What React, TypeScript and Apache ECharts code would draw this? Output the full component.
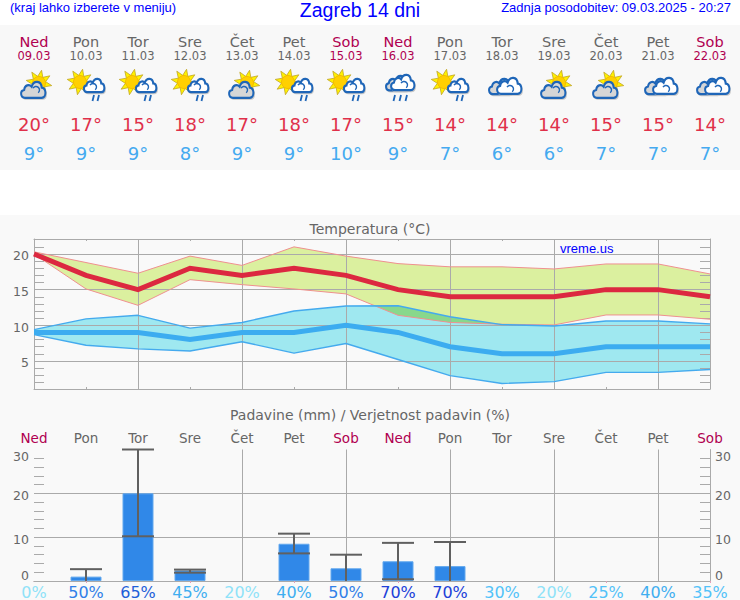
import React, { useEffect, useRef } from "react";
import * as echarts from "echarts";

const FONT = "DejaVu Sans";
const days = ["Ned", "Pon", "Tor", "Sre", "Čet", "Pet", "Sob", "Ned", "Pon", "Tor", "Sre", "Čet", "Pet", "Sob"];
const dates = ["09.03", "10.03", "11.03", "12.03", "13.03", "14.03", "15.03", "16.03", "17.03", "18.03", "19.03", "20.03", "21.03", "22.03"];
const icons = ["A", "B", "B", "B", "A", "B", "B", "C", "B", "D", "A", "A", "D", "D"];
const maxTemp = [20, 17, 15, 18, 17, 18, 17, 15, 14, 14, 14, 15, 15, 14];
const minTemp = [9, 9, 9, 8, 9, 9, 10, 9, 7, 6, 6, 7, 7, 7];
const maxUpper = [20.3, 18.8, 17.3, 19.7, 18.4, 21.0, 19.7, 18.65, 18.2, 18.2, 17.9, 18.6, 18.6, 17.2];
const maxLower = [20.0, 15.1, 12.8, 16.4, 15.7, 15.1, 14.4, 11.4, 10.4, 10.15, 10.05, 11.45, 11.45, 10.85];
const minUpper = [9.4, 10.9, 11.4, 9.6, 10.4, 12.0, 12.7, 12.75, 11.2, 10.1, 9.9, 10.6, 10.6, 10.2];
const minLower = [8.7, 7.2, 6.7, 6.4, 7.7, 6.1, 7.45, 5.2, 2.95, 1.85, 2.1, 3.4, 3.4, 3.8];
const rain: (number | null)[] = [null, 1, 20, 2.4, null, 8.5, 2.9, 4.5, 3.4, null, null, null, null, null];
const rainHigh: (number | null)[] = [null, 2.7, 30, 2.6, null, 10.8, 6, 8.7, 8.9, null, null, null, null, null];
const rainLow: (number | null)[] = [null, 0, 10.2, 1.9, null, 6.3, 0, 0.4, 0, null, null, null, null, null];
const probability = [0, 50, 65, 45, 20, 40, 50, 70, 70, 30, 20, 25, 40, 35];
const tempTicks = [5, 10, 15, 20];
const tempMinor = [2, 3, 4, 6, 7, 8, 9, 11, 12, 13, 14, 16, 17, 18, 19, 21];
const rainTicks = [10, 20];
const rainLabels = [10, 20, 30];
const rainMinor = [2, 4, 6, 8, 12, 14, 16, 18, 22, 24, 26, 28];

const GRAY = "#666666";
const LINE = "#aaaaaa";
const HOLIDAY = "#b00050";
const colX = (i: number) => 34 + 52 * i;
const dayColor = (i: number) => (days[i] === "Ned" || days[i] === "Sob" ? HOLIDAY : GRAY);
const probColor = (p: number) => {
  if (p <= 20) return "#8fe2f8";
  if (p <= 35) return "#52c2f8";
  if (p <= 45) return "#40aef0";
  if (p <= 50) return "#3080e8";
  if (p <= 65) return "#1f5fd8";
  return "#2040d8";
};

const CLOUD_D = "M6 18 C0.5 18 -0.5 10.5 5 9.5 C5.5 4.5 11 3 14 6 C16.5 -1 25.5 -0.5 26 7 C32 7.5 32 18 26 18 Z";
echarts.graphic.registerShape("cloudShape", echarts.graphic.extendPath(CLOUD_D as any, {}) as any);

function cloud(x: number, y: number, w: number, fill: string, z: number) {
  const s = w / 30;
  const sy = s * 1.12;
  return [
    { type: "cloudShape", x: x + 1, y: y + 1.5, scaleX: s, scaleY: sy, z, silent: true, style: { fill: "#b8b8b8", stroke: "#c8c8c8", lineWidth: 1 / s } },
    { type: "cloudShape", x, y, scaleX: s, scaleY: sy, z: z + 1, silent: true, style: { fill, stroke: "#1f66b8", lineWidth: 2 / s } },
  ];
}
function sun(cx: number, cy: number, z: number) {
  const pts: number[][] = [];
  for (let k = 0; k < 16; k++) {
    const a = (k * Math.PI) / 8 - Math.PI / 2 + 0.2;
    const r = k % 2 === 0 ? 13 : 6.8;
    pts.push([cx + r * Math.cos(a), cy + r * Math.sin(a)]);
  }
  return [
    { type: "polygon", z, silent: true, shape: { points: pts }, style: { fill: "#fff200", stroke: "#c0a428", lineWidth: 0.8 } },
    { type: "circle", z: z + 1, silent: true, shape: { cx, cy, r: 6.5 }, style: { fill: "#ffd000", stroke: "#f0b000", lineWidth: 0.8 } },
  ];
}
function drops(cx: number, xs: number[], z: number) {
  return xs.map((dx) => ({
    type: "line",
    z,
    silent: true,
    shape: { x1: cx + dx + 1, y1: 95, x2: cx + dx - 0.5, y2: 101 },
    style: { stroke: "#1f66b8", lineWidth: 1.8 },
  }));
}
function swirl(x: number, y: number, z: number) {
  return { type: "arc", z, silent: true, shape: { cx: x, cy: y, r: 3.5, startAngle: -2.6, endAngle: 0.9 }, style: { stroke: "#1f66b8", fill: "none", lineWidth: 1.4 } };
}
function icon(kind: string, i: number): any[] {
  const c = colX(i);
  if (kind === "A") return [...sun(c + 5, 83, 20), ...cloud(c - 14, 81, 25, "#d6d6d6", 22), swirl(c + 2, 90, 24)];
  if (kind === "B") return [...sun(c - 6, 82, 20), ...cloud(c - 3, 78, 21, "#ffffff", 22), swirl(c + 7, 87, 24), ...drops(c, [7, 12], 24)];
  if (kind === "C") return [...cloud(c - 13, 75, 23, "#d6d6d6", 20), ...cloud(c - 8, 74, 24, "#ffffff", 22), swirl(c + 6, 85, 24), ...drops(c, [-4, 2, 8], 24)];
  return [...cloud(c - 14, 78, 24, "#d6d6d6", 20), ...cloud(c - 6, 77, 25, "#ffffff", 22), swirl(c + 8, 89, 24)];
}
const label = (text: string, x: number, y: number, size: number, fill: string, align = "center", family = FONT) => ({
  type: "text",
  x,
  y,
  z: 30,
  silent: true,
  style: { text, fill, font: `${size}px "${family}"`, textAlign: align, textVerticalAlign: "middle" },
});

function bandItem(upper: number[], lower: number[], fill: string) {
  return (params: any, api: any) => {
    if (params.dataIndex !== 0) return null;
    const points = [
      ...upper.map((v, i) => api.coord([i, v])),
      ...lower.map((v, i) => api.coord([i, v])).reverse(),
    ];
    return { type: "polygon", shape: { points }, style: { fill, stroke: "none" } };
  };
}
function overlapItem(params: any, api: any) {
  if (params.dataIndex !== 0) return null;
  const top: number[][] = [];
  const bottom: number[][] = [];
  const lerp = (a: number[], b: number[], t: number) => [a[0] + (b[0] - a[0]) * t, a[1] + (b[1] - a[1]) * t];
  for (let i = 0; i < minUpper.length - 1; i++) {
    const f0 = minUpper[i] - maxLower[i];
    const f1 = minUpper[i + 1] - maxLower[i + 1];
    const t = f0 / (f0 - f1);
    const u0 = api.coord([i, minUpper[i]]);
    const u1 = api.coord([i + 1, minUpper[i + 1]]);
    const l0 = api.coord([i, maxLower[i]]);
    const l1 = api.coord([i + 1, maxLower[i + 1]]);
    if (f0 > 0) {
      top.push(u0);
      bottom.push(l0);
    }
    if (f0 * f1 < 0) {
      top.push(lerp(u0, u1, t));
      bottom.push(lerp(l0, l1, t));
    }
  }
  return { type: "polygon", shape: { points: [...top, ...bottom.reverse()] }, style: { fill: "#88d88c", stroke: "none" } };
}
function errorItem(params: any, api: any) {
  const x = api.coord([api.value(0), 0])[0];
  const hi = api.coord([api.value(0), api.value(2)])[1];
  const lo = api.coord([api.value(0), api.value(1)])[1];
  const st = { stroke: "#606060", lineWidth: 2 };
  const children: any[] = [
    { type: "line", shape: { x1: x, y1: hi, x2: x, y2: lo }, style: st },
    { type: "line", shape: { x1: x - 16, y1: hi, x2: x + 16, y2: hi }, style: st },
  ];
  if (api.value(1) > 0) children.push({ type: "line", shape: { x1: x - 16, y1: lo, x2: x + 16, y2: lo }, style: st });
  return { type: "group", children };
}

const tickStyle = { color: GRAY, fontFamily: FONT, fontSize: 12.5 };

export default function App() {
  const ref = useRef<HTMLDivElement>(null);
  useEffect(() => {
    const chart = echarts.init(ref.current!, undefined, { renderer: "svg" });
    const idx = days.map((_, i) => i);
    const catBase = { type: "category", data: days, boundaryGap: false };
    const oddTicks = (color: string) => ({ show: true, inside: true, length: 2, interval: (i: number) => i % 2 === 1, lineStyle: { color } });
    const evenSplit = (from: number) => ({ show: true, interval: (i: number) => i % 2 === 0 && i >= from, lineStyle: { color: LINE, width: 1 } });
    const rainLabel = {
      ...tickStyle,
      margin: 5,
      customValues: rainLabels,
      formatter: (v: number) => `{a${v}|${v}}`,
      rich: {
        a10: { ...tickStyle, padding: [4, 0, 0, 0] },
        a20: { ...tickStyle, padding: [4, 0, 0, 0] },
        a30: { ...tickStyle, padding: [14, 0, 0, 0] },
      },
    };
    const option: any = {
      animation: false,
      backgroundColor: "#ffffff",
      graphic: {
        elements: [
          { type: "rect", z: -10, silent: true, shape: { x: 0, y: 25, width: 740, height: 145 }, style: { fill: "#f8f8f8" } },
          { type: "rect", z: -10, silent: true, shape: { x: 0, y: 215, width: 740, height: 385 }, style: { fill: "#f9f9f9" } },
          label("(kraj lahko izberete v meniju)", 10, 7, 13, "#0000ff", "left", "Liberation Sans"),
          label("Zagreb 14 dni", 360, 10, 19.5, "#0000ff", "center", "Liberation Sans"),
          label("Zadnja posodobitev: 09.03.2025 - 20:27", 731, 7, 13, "#0000ff", "right", "Liberation Sans"),
          label("Temperatura (°C)", 370, 229, 14, GRAY),
          label("Padavine (mm) / Verjetnost padavin (%)", 370, 415, 14, GRAY),
          label("vreme.us", 560, 248, 13, "#0000ff", "left", "Liberation Sans"),
          label("0", 29, 575.5, 12.5, GRAY, "right"),
          label("0", 715, 575.5, 12.5, GRAY, "left"),
          ...days.map((d, i) => label(d, colX(i), 42, 14.5, dayColor(i))),
          ...dates.map((d, i) => label(d, colX(i), 56, 11.5, dayColor(i))),
          ...maxTemp.map((v, i) => label(`${v}°`, colX(i), 124.5, 18, "#e0304a")),
          ...minTemp.map((v, i) => label(`${v}°`, colX(i), 153.5, 18, "#44aaf0")),
          ...icons.flatMap((k, i) => icon(k, i)),
        ],
      },
      grid: [
        { left: 34, width: 676, top: 239, height: 150, show: false },
        { left: 34, width: 676, top: 449.5, height: 132, show: false },
      ],
      xAxis: [
        { ...catBase, gridIndex: 0, position: "bottom", z: 3, axisLine: { lineStyle: { color: LINE } }, axisTick: oddTicks(LINE), axisLabel: { show: false }, splitLine: evenSplit(2) },
        { ...catBase, gridIndex: 0, position: "top", z: 3, axisLine: { lineStyle: { color: LINE } }, axisTick: oddTicks(LINE), axisLabel: { show: false }, splitLine: { show: false } },
        {
          ...catBase,
          gridIndex: 1,
          position: "top",
          axisLine: { lineStyle: { color: "#e0a0b8" } },
          axisTick: oddTicks("#e0a0b8"),
          axisLabel: { interval: 0, margin: 5, fontFamily: FONT, fontSize: 13.5, color: (_: any, i: number) => dayColor(i) },
          splitLine: { show: false },
        },
        {
          type: "category",
          data: probability.map((p) => `${p}%`),
          boundaryGap: false,
          gridIndex: 1,
          position: "bottom",
          axisLine: { lineStyle: { color: LINE } },
          axisTick: { show: false },
          axisLabel: { interval: 0, margin: 3, fontFamily: FONT, fontSize: 16, color: (_: any, i: number) => probColor(probability[i]) },
          splitLine: evenSplit(2),
        },
      ],
      yAxis: [
        {
          type: "value", gridIndex: 0, position: "left", min: 1.07, max: 22.1, z: 3,
          axisLine: { show: true, lineStyle: { color: LINE } },
          axisTick: { show: true, inside: true, length: 10, customValues: tempMinor, lineStyle: { color: LINE } },
          axisLabel: { ...tickStyle, margin: 5, customValues: tempTicks, formatter: (v: number) => `{a|${v}}`, rich: { a: { ...tickStyle, padding: [4, 0, 0, 0] } } },
          splitLine: { show: false },
        },
        {
          type: "value", gridIndex: 0, position: "right", min: 1.07, max: 22.1, z: 3,
          axisLine: { show: true, lineStyle: { color: LINE } },
          axisTick: { show: true, inside: true, length: 10, customValues: tempMinor, lineStyle: { color: LINE } },
          axisLabel: { show: false },
          splitLine: { show: false },
        },
        {
          type: "value", gridIndex: 0, position: "left", min: 1.07, max: 22.1, z: 3,
          axisLine: { show: false },
          axisTick: { show: false, customValues: tempTicks },
          axisLabel: { show: false },
          splitLine: { show: true, lineStyle: { color: LINE } },
        },
        {
          type: "value", gridIndex: 1, position: "left", min: 0, max: 30,
          axisLine: { show: false },
          axisTick: { show: true, inside: true, length: 10, customValues: rainMinor, lineStyle: { color: LINE } },
          axisLabel: rainLabel,
          splitLine: { show: false },
        },
        {
          type: "value", gridIndex: 1, position: "right", min: 0, max: 30,
          axisLine: { show: true, lineStyle: { color: LINE } },
          axisTick: { show: true, inside: true, length: 10, customValues: rainMinor, lineStyle: { color: LINE } },
          axisLabel: rainLabel,
          splitLine: { show: false },
        },
        {
          type: "value", gridIndex: 1, position: "left", min: 0, max: 30,
          axisLine: { show: false },
          axisTick: { show: false, customValues: rainTicks },
          axisLabel: { show: false },
          splitLine: { show: true, lineStyle: { color: LINE } },
        },
      ],
      series: [
        { type: "custom", name: "band max", xAxisIndex: 0, yAxisIndex: 0, z: 1, clip: false, silent: true, data: idx.map((i) => [i, maxLower[i], maxUpper[i]]), encode: { x: 0, y: [1, 2] }, renderItem: bandItem(maxUpper, maxLower, "#dbf09f") },
        { type: "custom", name: "band min", xAxisIndex: 0, yAxisIndex: 0, z: 1.1, clip: false, silent: true, data: idx.map((i) => [i, minLower[i], minUpper[i]]), encode: { x: 0, y: [1, 2] }, renderItem: bandItem(minUpper, minLower, "#9fe8f0") },
        { type: "custom", name: "overlap", xAxisIndex: 0, yAxisIndex: 0, z: 1.2, clip: false, silent: true, data: idx.map((i) => [i, maxLower[i], minUpper[i]]), encode: { x: 0, y: [1, 2] }, renderItem: overlapItem },
        { type: "line", name: "max upper", xAxisIndex: 0, yAxisIndex: 0, z: 4, data: maxUpper, symbol: "none", lineStyle: { color: "#ef9090", width: 1 } },
        { type: "line", name: "max lower", xAxisIndex: 0, yAxisIndex: 0, z: 4, data: maxLower, symbol: "none", lineStyle: { color: "#ef9090", width: 1 } },
        { type: "line", name: "min upper", xAxisIndex: 0, yAxisIndex: 0, z: 4, data: minUpper, symbol: "none", lineStyle: { color: "#44aaee", width: 1.4 } },
        { type: "line", name: "min lower", xAxisIndex: 0, yAxisIndex: 0, z: 4, data: minLower, symbol: "none", lineStyle: { color: "#44aaee", width: 1.4 } },
        { type: "line", name: "Tmax", xAxisIndex: 0, yAxisIndex: 0, z: 5, data: maxTemp, symbol: "none", lineStyle: { color: "#dc2840", width: 5, join: "miter" } },
        { type: "line", name: "Tmin", xAxisIndex: 0, yAxisIndex: 0, z: 5, data: minTemp, symbol: "none", lineStyle: { color: "#3cacf0", width: 5, join: "miter" } },
        { type: "bar", name: "Padavine", xAxisIndex: 2, yAxisIndex: 3, barWidth: 31, data: rain, itemStyle: { color: "#3088e8", borderColor: "#62a8ee", borderWidth: 1 } },
        {
          type: "custom", name: "Razpon", xAxisIndex: 2, yAxisIndex: 3, z: 6, clip: false, silent: true,
          data: idx.filter((i) => rainHigh[i] !== null).map((i) => [i, rainLow[i], rainHigh[i]]),
          encode: { x: 0, y: [1, 2] },
          renderItem: errorItem,
        },
      ],
    };
    chart.setOption(option);
    return () => chart.dispose();
  }, []);
  return <div ref={ref} style={{ position: "absolute", left: 0, top: 0, width: 740, height: 600 }} />;
}
